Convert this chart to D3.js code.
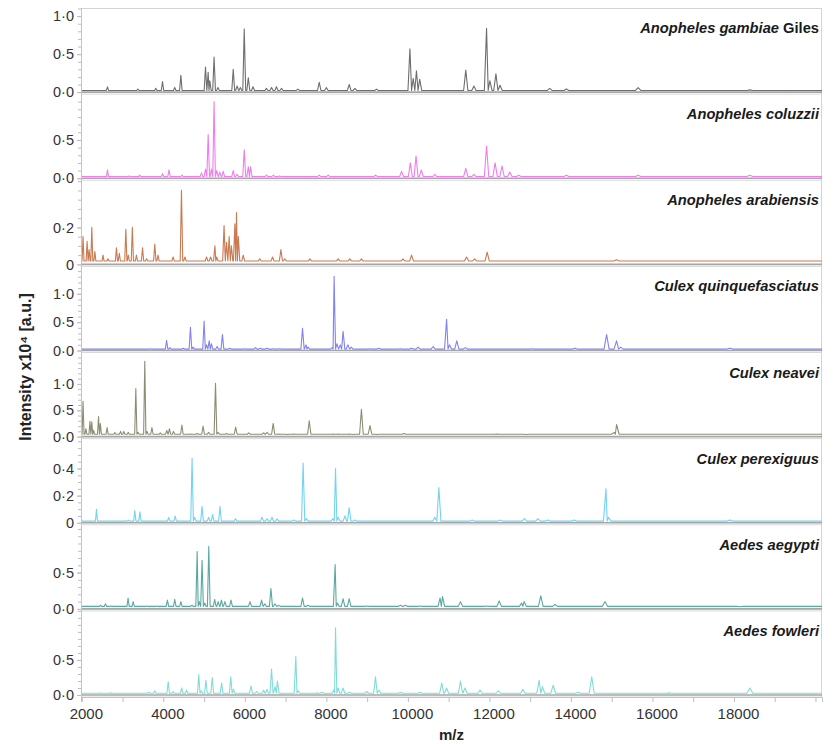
<!DOCTYPE html>
<html>
<head>
<meta charset="utf-8">
<script src="https://cdn.jsdelivr.net/npm/d3@7"></script>
<style>
  body { margin: 0; background: #fff; }
  svg { display: block; font-family: "Liberation Sans", Arial, Helvetica, sans-serif; }
  .tick text { fill: #333; }
  .title { font-weight: bold; font-style: italic; font-size: 14.7px; fill: #1a1a1a; }
  .axis-label { font-weight: bold; font-size: 14px; fill: #222; }
</style>
</head>
<body>
<div id="chart"></div>
<script>
// ===== Data (peaks: [m/z, intensity x10^4]) =====
const species = [
  'Anopheles gambiae', 'Anopheles coluzzii', 'Anopheles arabiensis', 'Culex quinquefasciatus',
  'Culex neavei', 'Culex perexiguus', 'Aedes aegypti', 'Aedes fowleri'
];
const titleSuffix = [' Giles', '', '', '', '', '', '', ''];

const gambiae = [[2630,0.07],[3375,0.04],[3815,0.05],[3980,0.14],[4280,0.06],[4430,0.22],[5035,0.33],[5100,0.26],[5140,0.15],[5245,0.46],[5340,0.06],[5715,0.30],[5810,0.08],[5890,0.06],[5985,0.83],[6085,0.19],[6200,0.07],[6530,0.05],[6655,0.06],[6775,0.07],[6900,0.05],[7300,0.04],[7825,0.13],[8000,0.06],[8560,0.10],[8700,0.05],[9230,0.04],[10050,0.57],[10130,0.18],[10210,0.28],[10290,0.17],[11420,0.29],[11620,0.08],[11930,0.84],[12010,0.15],[12160,0.24],[12260,0.09],[13480,0.05],[13890,0.04],[15650,0.06],[18390,0.03]];
const coluzzii = [[2630,0.11],[3160,0.03],[3420,0.04],[3980,0.06],[4140,0.11],[4460,0.04],[4935,0.07],[5035,0.12],[5100,0.57],[5180,0.12],[5245,1.0],[5310,0.10],[5385,0.08],[5470,0.09],[5715,0.10],[5810,0.05],[5985,0.37],[6085,0.15],[6140,0.15],[6530,0.04],[6700,0.04],[6850,0.03],[7825,0.04],[8045,0.04],[9210,0.04],[9845,0.09],[10060,0.20],[10200,0.29],[10330,0.11],[10660,0.05],[11420,0.13],[11620,0.05],[11930,0.42],[12140,0.20],[12310,0.16],[12500,0.08],[12720,0.04],[13890,0.04],[15650,0.04],[18390,0.04]];
const arabiensis = [[2030,0.15],[2130,0.125],[2180,0.08],[2245,0.20],[2320,0.07],[2520,0.05],[2640,0.03],[2850,0.09],[2920,0.06],[3080,0.19],[3140,0.05],[3240,0.20],[3340,0.05],[3490,0.09],[3590,0.03],[3790,0.11],[3870,0.05],[4240,0.04],[4445,0.40],[4530,0.04],[5060,0.04],[5160,0.04],[5265,0.10],[5310,0.04],[5490,0.21],[5550,0.12],[5615,0.15],[5670,0.10],[5755,0.22],[5795,0.28],[5840,0.15],[5960,0.05],[6365,0.03],[6680,0.04],[6885,0.08],[6980,0.03],[7595,0.03],[8290,0.03],[8575,0.03],[8860,0.03],[9880,0.03],[10090,0.05],[11440,0.04],[11640,0.03],[11945,0.066],[15120,0.025]];
const quinquefasciatus = [[3680,0.03],[4080,0.18],[4160,0.05],[4490,0.04],[4665,0.41],[4730,0.06],[5000,0.52],[5060,0.10],[5125,0.17],[5180,0.12],[5320,0.07],[5450,0.28],[5630,0.04],[6000,0.03],[6260,0.05],[6380,0.04],[6540,0.04],[6700,0.03],[6850,0.03],[7415,0.39],[7500,0.10],[7550,0.06],[8140,0.05],[8190,1.31],[8260,0.12],[8340,0.10],[8410,0.34],[8530,0.10],[8610,0.06],[9080,0.03],[9285,0.04],[9815,0.03],[10090,0.04],[10250,0.06],[10620,0.07],[10950,0.55],[11020,0.10],[11200,0.17],[11410,0.05],[13030,0.03],[14100,0.04],[14875,0.28],[15120,0.17],[15220,0.06],[17900,0.04]];
const neavei = [[2030,0.67],[2100,0.15],[2200,0.29],[2245,0.28],[2290,0.12],[2410,0.38],[2455,0.25],[2620,0.17],[2810,0.08],[2950,0.10],[3030,0.10],[3140,0.08],[3325,0.91],[3380,0.08],[3545,1.43],[3600,0.10],[3720,0.17],[3925,0.07],[4085,0.12],[4150,0.15],[4250,0.10],[4455,0.22],[4660,0.05],[4830,0.06],[4975,0.20],[5110,0.08],[5280,1.01],[5345,0.08],[5550,0.06],[5775,0.18],[6095,0.07],[6460,0.07],[6545,0.08],[6695,0.25],[6830,0.05],[7035,0.04],[7200,0.05],[7580,0.30],[8160,0.05],[8290,0.05],[8560,0.05],[8660,0.04],[8860,0.52],[9070,0.21],[9240,0.04],[9900,0.06],[12180,0.05],[12910,0.04],[15060,0.08],[15120,0.23]];
const perexiguus = [[2360,0.10],[3140,0.02],[3300,0.09],[3425,0.08],[4130,0.04],[4290,0.05],[4705,0.475],[4770,0.04],[4950,0.12],[5110,0.04],[5210,0.06],[5390,0.12],[5770,0.03],[6420,0.04],[6545,0.03],[6665,0.04],[6790,0.03],[7200,0.02],[7430,0.44],[7510,0.03],[8160,0.03],[8225,0.40],[8290,0.04],[8455,0.05],[8560,0.11],[8700,0.02],[10660,0.04],[10760,0.26],[11580,0.02],[12270,0.02],[12860,0.03],[13190,0.03],[13430,0.02],[14080,0.02],[14860,0.25],[14920,0.04],[17900,0.02]];
const aegypti = [[2460,0.05],[2580,0.07],[2700,0.04],[3135,0.15],[3260,0.10],[3590,0.04],[3840,0.04],[4100,0.12],[4280,0.13],[4430,0.10],[4700,0.05],[4830,0.79],[4880,0.10],[4950,0.67],[5015,0.08],[5115,0.86],[5260,0.13],[5345,0.10],[5425,0.12],[5510,0.10],[5660,0.12],[6125,0.10],[6410,0.12],[6490,0.07],[6640,0.28],[6740,0.07],[6830,0.05],[7415,0.15],[7550,0.05],[8215,0.61],[8270,0.08],[8410,0.14],[8560,0.14],[8990,0.04],[9815,0.05],[9940,0.05],[10300,0.04],[10790,0.15],[10850,0.17],[11290,0.10],[11930,0.04],[12240,0.11],[12790,0.08],[12850,0.10],[13260,0.18],[13610,0.06],[14835,0.10],[18150,0.03]];
const fowleri = [[2460,0.03],[2700,0.03],[3640,0.04],[3790,0.06],[4120,0.19],[4240,0.05],[4450,0.10],[4570,0.07],[4870,0.29],[4930,0.06],[5045,0.21],[5200,0.25],[5430,0.17],[5655,0.26],[5720,0.08],[6150,0.13],[6290,0.05],[6460,0.07],[6545,0.08],[6655,0.37],[6740,0.12],[6800,0.20],[7250,0.55],[7310,0.06],[7770,0.03],[7890,0.04],[8180,0.07],[8225,0.96],[8290,0.10],[8410,0.10],[8575,0.04],[8990,0.05],[9205,0.26],[9290,0.07],[9815,0.04],[10300,0.04],[10830,0.17],[10950,0.10],[11290,0.20],[11400,0.10],[11770,0.07],[12220,0.06],[12820,0.08],[13220,0.21],[13300,0.12],[13565,0.14],[14180,0.04],[14510,0.26],[16400,0.03],[18390,0.10]];

const spectra = [gambiae, coluzzii, arabiensis, quinquefasciatus, neavei, perexiguus, aegypti, fowleri];
const baselines = [0.022, 0.022, 0.018, 0.025, 0.045, 0.012, 0.035, 0.025];

// y-axis: upper limit and labelled ticks per panel
const yMax = [1.107, 1.098, 0.455, 1.483, 1.596, 0.62, 1.158, 1.20];
const yTicks = [[0, 0.5, 1], [0, 0.5], [0, 0.2], [0, 0.5, 1], [0, 0.5, 1], [0, 0.2, 0.4], [0, 0.5], [0, 0.5]];
const yMinorStep = [0.1, 0.1, 0.05, 0.1, 0.1, 0.05, 0.1, 0.1];

const mzDomain = [1980, 20160];
const mzTicks = d3.range(2000, 20001, 1000);
const mzLabels = d3.range(2000, 18001, 2000);

const colors = ['#6e6e6e', '#f07cf0', '#c97a50', '#8282f2', '#8d8d74', '#72d4f0', '#5aa9a1', '#80ddd5'];

// ===== Layout =====
const width = 835, height = 744;
const margin = { top: 8, right: 13, bottom: 47, left: 81 };
const plotW = width - margin.left - margin.right;
const plotH = height - margin.top - margin.bottom;
const bandH = plotH / species.length;

const svg = d3.select('#chart').append('svg')
  .attr('width', width)
  .attr('height', height);

const x = d3.scaleLinear().domain(mzDomain).range([margin.left, margin.left + plotW]);

// Frame: top and right borders
svg.append('line')
  .attr('x1', margin.left).attr('x2', margin.left + plotW)
  .attr('y1', margin.top + 0.5).attr('y2', margin.top + 0.5)
  .attr('stroke', '#d4d4d4');
svg.append('line')
  .attr('x1', margin.left + plotW - 0.5).attr('x2', margin.left + plotW - 0.5)
  .attr('y1', margin.top).attr('y2', margin.top + plotH)
  .attr('stroke', '#d4d4d4');

// Turn peak list into a spectrum line
function spectrumPoints(peaks, base) {
  const pts = [[mzDomain[0], base]];
  peaks.forEach((p, i) => {
    const w = 18 + p[0] * 0.003;
    const prev = i > 0 ? peaks[i - 1][0] : mzDomain[0];
    const next = i < peaks.length - 1 ? peaks[i + 1][0] : mzDomain[1];
    const left = Math.max(p[0] - w, (prev + p[0]) / 2);
    const right = Math.min(p[0] + w, (p[0] + next) / 2);
    pts.push([left, base], [p[0], p[1]], [right, base]);
  });
  pts.push([mzDomain[1], base]);
  return pts;
}

const fmt = d => d3.format('.1f')(d).replace('.', '\u00b7');

species.forEach((name, i) => {
  const top = margin.top + i * bandH;
  const zeroY = top + bandH - 2;
  const y = d3.scaleLinear().domain([0, yMax[i]]).range([zeroY, top]);
  const g = svg.append('g');

  // panel separator + zero line
  g.append('line')
    .attr('x1', margin.left).attr('x2', margin.left + plotW)
    .attr('y1', top + bandH).attr('y2', top + bandH)
    .attr('stroke', '#d8d8d8');
  g.append('line')
    .attr('x1', margin.left).attr('x2', margin.left + plotW)
    .attr('y1', y(0)).attr('y2', y(0))
    .attr('stroke', '#a6a6a6')
    .attr('stroke-width', 1.6);

  // spectrum
  const line = d3.line().x(d => x(d[0])).y(d => y(d[1]));
  g.append('path')
    .datum(spectrumPoints(spectra[i], baselines[i]))
    .attr('fill', 'none')
    .attr('stroke', colors[i])
    .attr('stroke-width', 1.1)
    .attr('stroke-linejoin', 'round')
    .attr('d', line);

  // minor ticks
  const minor = d3.range(0, yMax[i] + 1e-9, yMinorStep[i]);
  g.append('g')
    .attr('transform', `translate(${margin.left},0)`)
    .call(d3.axisLeft(y).tickValues(minor).tickSize(3).tickFormat(''))
    .call(a => a.select('.domain').remove())
    .call(a => a.selectAll('.tick line').attr('stroke', '#bdbdbd'));

  // labelled ticks (zero shown as "0" on the small-range panels)
  const small = yTicks[i].some(v => v !== 0 && v < 0.5);
  g.append('g')
    .attr('transform', `translate(${margin.left},0)`)
    .call(d3.axisLeft(y).tickValues(yTicks[i]).tickSize(4).tickPadding(3)
      .tickFormat(d => (small && d === 0) ? '0' : fmt(d)))
    .call(a => a.select('.domain').remove())
    .call(a => a.selectAll('.tick line').attr('stroke', '#bdbdbd'))
    .call(a => a.selectAll('.tick text').attr('font-size', 14.5));

  // title
  const t = g.append('text')
    .attr('class', 'title')
    .attr('x', margin.left + plotW - 3)
    .attr('y', top + 25)
    .attr('text-anchor', 'end')
    .text(name);
  if (titleSuffix[i]) t.append('tspan').attr('font-style', 'normal').text(titleSuffix[i]);
});

// left axis line
svg.append('line')
  .attr('x1', margin.left + 0.5).attr('x2', margin.left + 0.5)
  .attr('y1', margin.top).attr('y2', margin.top + plotH + 5)
  .attr('stroke', '#c4c4c4');

// x axis
const xAxis = svg.append('g')
  .attr('transform', `translate(0,${margin.top + plotH})`)
  .call(d3.axisBottom(x).tickValues(mzTicks).tickSize(5).tickPadding(6)
    .tickFormat(d => mzLabels.includes(d) ? d : ''));
xAxis.select('.domain').attr('stroke', '#c4c4c4');
xAxis.selectAll('.tick line').attr('stroke', '#bdbdbd');
xAxis.selectAll('.tick text').attr('font-size', 15).attr('dx', 4);

// axis titles
svg.append('text')
  .attr('class', 'axis-label')
  .attr('x', margin.left + plotW / 2)
  .attr('y', 740)
  .attr('text-anchor', 'middle')
  .style('font-size', '15px')
  .text('m/z');

svg.append('text')
  .attr('class', 'axis-label')
  .attr('transform', 'translate(31,367) rotate(-90)')
  .attr('text-anchor', 'middle')
  .style('font-size', '16px')
  .text('Intensity x10\u2074 [a.u.]');
</script>
</body>
</html>
